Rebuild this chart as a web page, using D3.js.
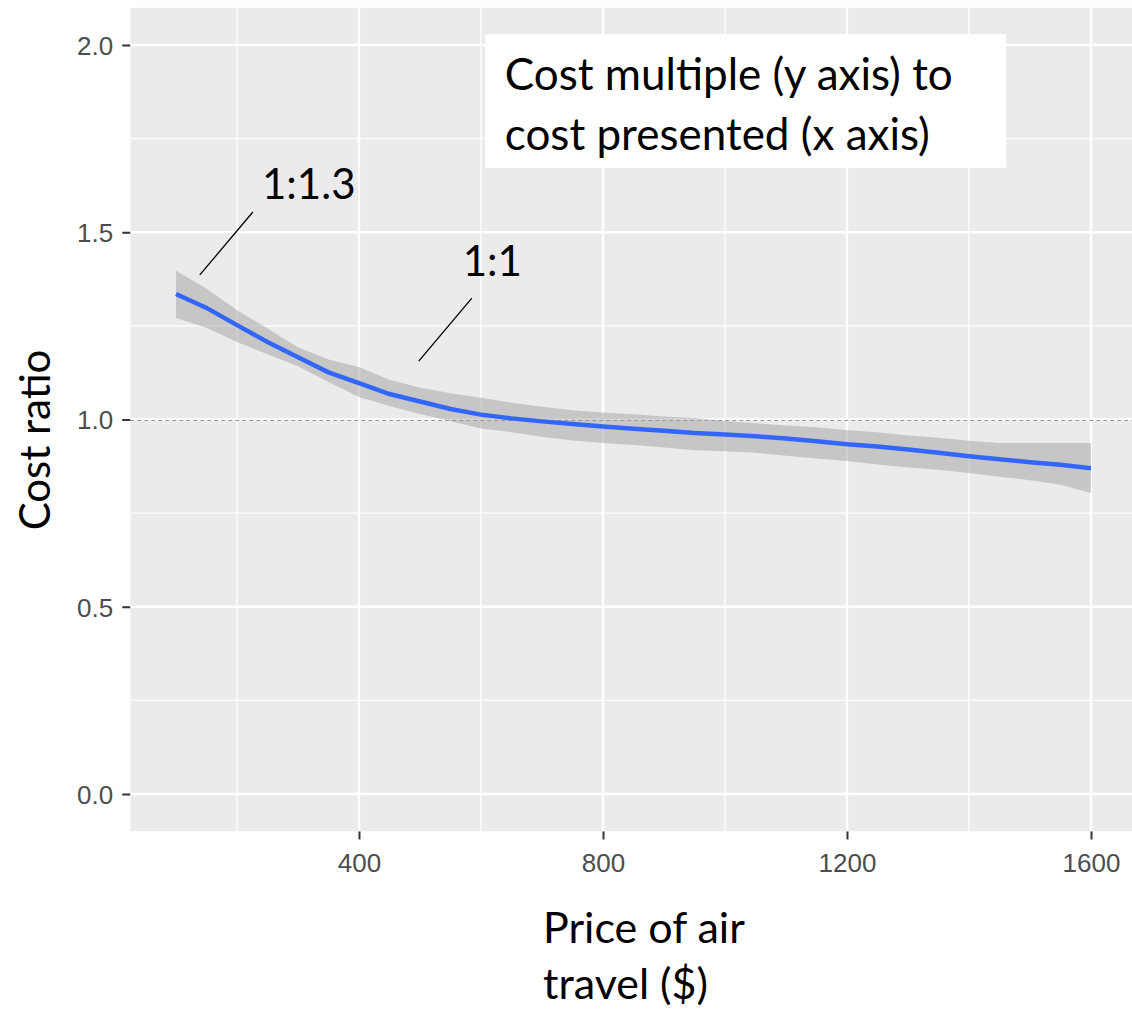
<!DOCTYPE html>
<html>
<head>
<meta charset="utf-8">
<script src="https://cdn.jsdelivr.net/npm/d3@7"></script>
<style>
  body { margin: 0; background: #fff; }
  svg { display: block; }
</style>
</head>
<body>
<script>
// price of air travel ($)
var price = [100, 150, 200, 250, 300, 350, 400, 450, 500, 550, 600, 650, 700, 750, 800, 850,
             900, 950, 1000, 1050, 1100, 1150, 1200, 1250, 1300, 1350, 1400, 1450, 1500, 1550, 1600];
// smoothed cost ratio
var ratio = [1.335, 1.298, 1.252, 1.207, 1.166, 1.126, 1.097, 1.068, 1.048, 1.028, 1.013, 1.003,
             0.995, 0.988, 0.981, 0.975, 0.970, 0.964, 0.960, 0.955, 0.949, 0.942, 0.934, 0.928,
             0.920, 0.911, 0.902, 0.894, 0.886, 0.879, 0.870];
// confidence band
var upper = [1.397, 1.350, 1.292, 1.243, 1.193, 1.160, 1.140, 1.106, 1.085, 1.070, 1.058, 1.045,
             1.034, 1.025, 1.019, 1.014, 1.008, 1.004, 0.996, 0.990, 0.984, 0.979, 0.971, 0.966,
             0.957, 0.951, 0.943, 0.937, 0.937, 0.937, 0.937];
var lower = [1.271, 1.245, 1.207, 1.174, 1.142, 1.100, 1.060, 1.036, 1.015, 0.995, 0.976, 0.966,
             0.954, 0.944, 0.937, 0.932, 0.925, 0.918, 0.915, 0.911, 0.903, 0.896, 0.889, 0.880,
             0.872, 0.866, 0.857, 0.847, 0.838, 0.826, 0.804];

var xTicks = [400, 800, 1200, 1600];
var xMinor = [200, 600, 1000, 1400];
var yTicks = [0, 0.5, 1, 1.5, 2];
var yMinor = [0.25, 0.75, 1.25, 1.75];
var refLine = 1;

// annotations in data units
var labels = [
  {text: "1:1.3", x: 241, y: 1.589, x1: 139, y1: 1.386, x2: 226, y2: 1.554},
  {text: "1:1",   x: 570, y: 1.383, x1: 498, y1: 1.156, x2: 585, y2: 1.324}
];
var noteBox = {x0: 607, x1: 1461, y0: 2.029, y1: 1.672};
var noteLines = [
  {text: "Cost multiple (y axis) to", x: 639, y: 1.880},
  {text: "cost presented (x axis)", x: 639, y: 1.720}
];

var w = 1132, h = 1011;
var pLeft = 130.25, pRight = 1136.75, pTop = 7.55, pBottom = 831.45;
var textFont = "Lato, 'Open Sans', sans-serif";

var data = price.map(function(p, i) {
  return {x: p, y: ratio[i], hi: upper[i], lo: lower[i]};
});

var x = d3.scaleLinear().domain([25, 1675]).range([pLeft, pRight]);
var y = d3.scaleLinear().domain([-0.1, 2.1]).range([pBottom, pTop]);

var svg = d3.select("body").append("svg")
  .attr("width", w)
  .attr("height", h);

svg.append("clipPath").attr("id", "panel")
  .append("rect")
  .attr("x", pLeft).attr("y", pTop)
  .attr("width", pRight - pLeft).attr("height", pBottom - pTop);

var panel = svg.append("g").attr("clip-path", "url(#panel)");

panel.append("rect")
  .attr("x", pLeft).attr("y", pTop)
  .attr("width", pRight - pLeft).attr("height", pBottom - pTop)
  .attr("fill", "#ebebeb");

// minor grid
panel.selectAll(".vminor").data(xMinor).enter().append("line")
  .attr("x1", function(d) { return x(d); }).attr("x2", function(d) { return x(d); })
  .attr("y1", pTop).attr("y2", pBottom)
  .attr("stroke", "#fff").attr("stroke-width", 1.3);
panel.selectAll(".hminor").data(yMinor).enter().append("line")
  .attr("y1", function(d) { return y(d); }).attr("y2", function(d) { return y(d); })
  .attr("x1", pLeft).attr("x2", pRight)
  .attr("stroke", "#fff").attr("stroke-width", 1.3);
// major grid
panel.selectAll(".vmajor").data(xTicks).enter().append("line")
  .attr("x1", function(d) { return x(d); }).attr("x2", function(d) { return x(d); })
  .attr("y1", pTop).attr("y2", pBottom)
  .attr("stroke", "#fff").attr("stroke-width", 2.4);
panel.selectAll(".hmajor").data(yTicks).enter().append("line")
  .attr("y1", function(d) { return y(d); }).attr("y2", function(d) { return y(d); })
  .attr("x1", pLeft).attr("x2", pRight)
  .attr("stroke", "#fff").attr("stroke-width", 2.4);

// dashed reference line
panel.append("line")
  .attr("x1", pLeft).attr("x2", pRight)
  .attr("y1", y(refLine) + 1).attr("y2", y(refLine) + 1)
  .attr("stroke", "#999").attr("stroke-width", 1)
  .attr("stroke-dasharray", "4,3");

// ribbon
panel.append("path")
  .datum(data)
  .attr("fill", "#999999")
  .attr("fill-opacity", 0.45)
  .attr("d", d3.area()
    .x(function(d) { return x(d.x); })
    .y0(function(d) { return y(d.lo); })
    .y1(function(d) { return y(d.hi); }));

// smooth line
panel.append("path")
  .datum(data)
  .attr("fill", "none")
  .attr("stroke", "#3366ff")
  .attr("stroke-width", 4.5)
  .attr("d", d3.line()
    .x(function(d) { return x(d.x); })
    .y(function(d) { return y(d.y); }));

// note box
panel.append("rect")
  .attr("x", x(noteBox.x0)).attr("y", y(noteBox.y0))
  .attr("width", x(noteBox.x1) - x(noteBox.x0))
  .attr("height", y(noteBox.y1) - y(noteBox.y0))
  .attr("fill", "#fff");
panel.selectAll(".note").data(noteLines).enter().append("text")
  .attr("x", function(d) { return x(d.x); })
  .attr("y", function(d) { return y(d.y); })
  .attr("font-family", textFont)
  .attr("font-size", "44px")
  .attr("fill", "#000")
  .text(function(d) { return d.text; });

// annotation labels and leader lines
panel.selectAll(".lead").data(labels).enter().append("line")
  .attr("x1", function(d) { return x(d.x1); }).attr("y1", function(d) { return y(d.y1); })
  .attr("x2", function(d) { return x(d.x2); }).attr("y2", function(d) { return y(d.y2); })
  .attr("stroke", "#000").attr("stroke-width", 1.3);
panel.selectAll(".lab").data(labels).enter().append("text")
  .attr("x", function(d) { return x(d.x); })
  .attr("y", function(d) { return y(d.y); })
  .attr("font-family", textFont)
  .attr("font-size", "42px")
  .attr("fill", "#000")
  .text(function(d) { return d.text; });

// axes
var xAxis = svg.append("g")
  .attr("transform", "translate(0," + pBottom + ")")
  .call(d3.axisBottom(x).tickValues(xTicks).tickSize(8).tickPadding(8).tickFormat(d3.format("d")));
var yAxis = svg.append("g")
  .attr("transform", "translate(" + pLeft + ",0)")
  .call(d3.axisLeft(y).tickValues(yTicks).tickSize(8).tickPadding(9).tickFormat(d3.format(".1f")));

[xAxis, yAxis].forEach(function(a) {
  a.select(".domain").remove();
  a.selectAll(".tick line").attr("stroke", "#333").attr("stroke-width", 2);
  a.selectAll(".tick text")
    .attr("fill", "#4d4d4d")
    .attr("font-family", "'Liberation Sans', Arial, sans-serif")
    .attr("font-size", "26px");
});
xAxis.selectAll(".tick text").attr("dy", "0.95em");
yAxis.selectAll(".tick text").attr("dy", "0.36em");

// axis titles
svg.append("text")
  .attr("transform", "translate(50,440) rotate(-90)")
  .attr("text-anchor", "middle")
  .attr("font-family", textFont)
  .attr("font-size", "42px")
  .attr("fill", "#000")
  .text("Cost ratio");

var xTitle = svg.append("text")
  .attr("font-family", textFont)
  .attr("font-size", "43px")
  .attr("fill", "#000");
xTitle.append("tspan").attr("x", 543).attr("y", 943).text("Price of air");
xTitle.append("tspan").attr("x", 543).attr("y", 999).text("travel ($)");
</script>
</body>
</html>
